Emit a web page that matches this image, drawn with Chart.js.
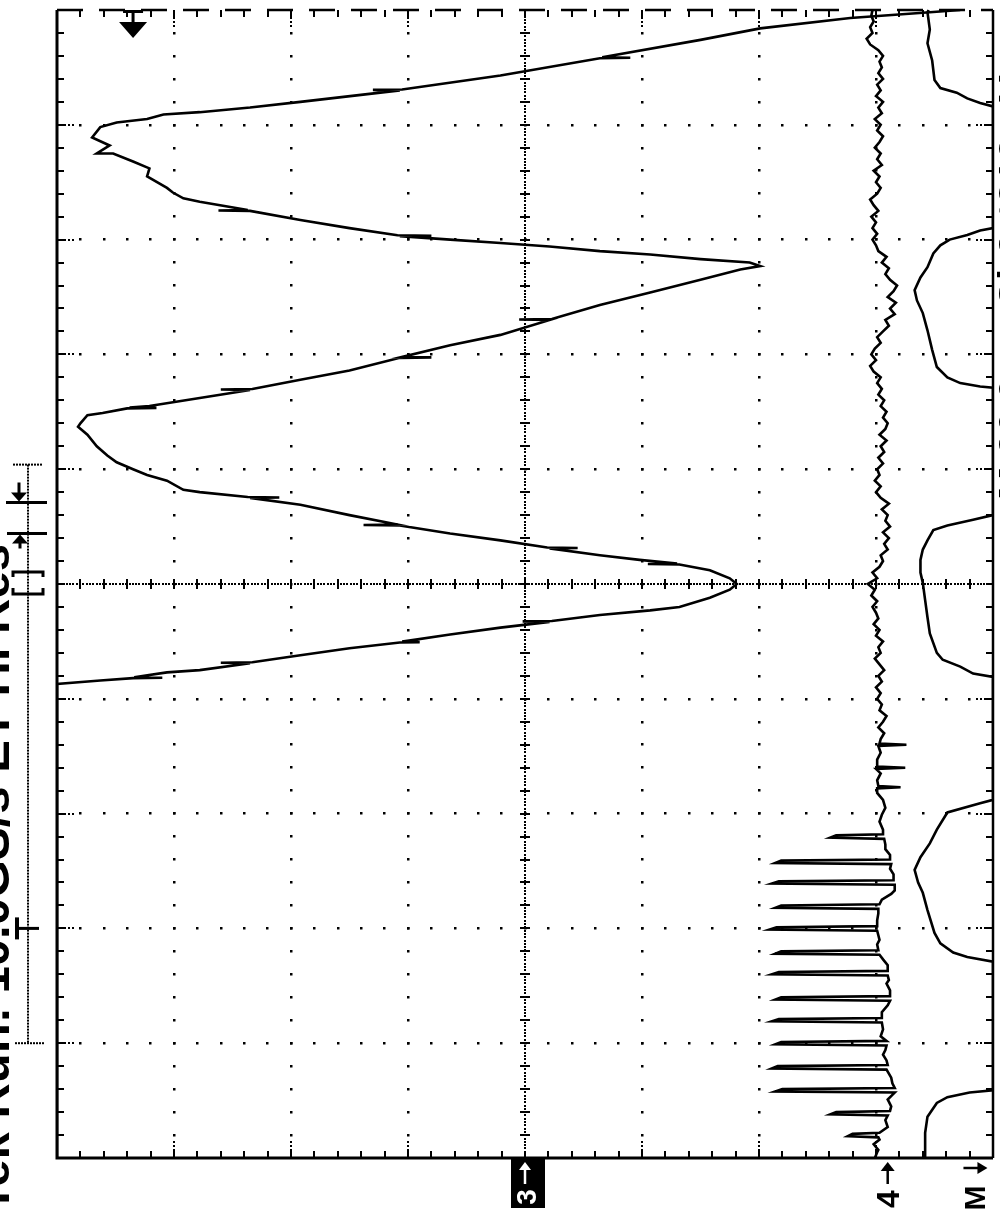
<!DOCTYPE html>
<html>
<head>
<meta charset="utf-8">
<script src="https://cdn.jsdelivr.net/npm/chart.js@4.4.0/dist/chart.umd.min.js"></script>
<style>
  html, body { margin: 0; padding: 0; background: #fff; }
  canvas { display: block; }
</style>
</head>
<body>
<canvas id="scope" width="1000" height="1213"></canvas>
<script>
// scope screen is turned on its side: time runs bottom -> top (10 div),
// volts run left -> right (8 div). all values are in graticule divisions.

// channel 3 - big triangle wave, clipped on the left edge at the start
const ch3Time = [0, 4.13,
  4.16, 4.18, 4.184, 4.188, 4.23, 4.25, 4.31, 4.314, 4.318,
  4.38, 4.44, 4.49, 4.494, 4.498, 4.56, 4.62, 4.67, 4.674, 4.678,
  4.73, 4.77, 4.80, 4.88, 4.95, 5.00,
  5.05, 5.12, 5.17, 5.174, 5.178, 5.21, 5.25, 5.31, 5.314, 5.318,
  5.38, 5.44, 5.51, 5.514, 5.518, 5.60, 5.69, 5.75, 5.754, 5.758,
  5.80, 5.82, 5.90, 5.95, 6.00, 6.06, 6.12, 6.20, 6.30, 6.37,
  6.40, 6.47, 6.49, 6.53, 6.534, 6.538, 6.55, 6.62, 6.69, 6.694, 6.698,
  6.78, 6.86, 6.97, 6.974, 6.978, 7.08, 7.17, 7.30, 7.304, 7.308,
  7.43, 7.54, 7.65, 7.74, 7.77,
  7.80, 7.83, 7.87, 7.90, 7.94, 7.97, 8.00, 8.03, 8.034, 8.038,
  8.10, 8.17, 8.25, 8.254, 8.258, 8.33,
  8.36, 8.41, 8.45, 8.55, 8.62, 8.68, 8.75, 8.75, 8.82, 8.89,
  8.98, 9.02, 9.05, 9.09, 9.11, 9.15, 9.20,
  9.30, 9.304, 9.308, 9.43, 9.58, 9.584, 9.588, 9.74, 9.84, 9.93, 9.98, 10.0];
const ch3Volt = [0, 0,
  0.37, 0.65, 0.90, 0.66, 0.94, 1.22, 1.65, 1.40, 1.67,
  2.08, 2.50, 2.93, 3.10, 2.95, 3.36, 3.79, 4.21, 3.98, 4.23,
  4.64, 5.07, 5.32, 5.58, 5.75, 5.81,
  5.75, 5.58, 5.32, 5.05, 5.30, 4.98, 4.64, 4.21, 4.45, 4.19,
  3.79, 3.36, 2.93, 2.62, 2.91, 2.50, 2.08, 1.65, 1.90, 1.63,
  1.22, 1.08, 0.94, 0.77, 0.65, 0.51, 0.43, 0.34, 0.26, 0.18,
  0.20, 0.26, 0.39, 0.60, 0.85, 0.62, 0.79, 1.22, 1.65, 1.40, 1.67,
  2.08, 2.50, 2.93, 3.20, 2.95, 3.36, 3.79, 4.21, 3.95, 4.23,
  4.64, 5.07, 5.50, 5.84, 6.01,
  5.92, 5.50, 5.07, 4.64, 4.21, 3.79, 3.36, 2.93, 3.20, 2.91,
  2.50, 2.08, 1.65, 1.38, 1.63, 1.22,
  1.08, 0.99, 0.94, 0.77, 0.79, 0.65, 0.48, 0.34, 0.45, 0.30,
  0.37, 0.51, 0.77, 0.91, 1.22, 1.65, 2.08,
  2.93, 2.70, 2.95, 3.79, 4.64, 4.90, 4.66, 5.50, 6.01, 6.78, 7.46, 7.72];

// channel 4 - noisy line with the burst of spikes early in the record
const ch4Time = [0.00, 0.05, 0.07, 0.12, 0.16,
  0.18, 0.19, 0.21, 0.22, 0.27, 0.33,
  0.37, 0.38, 0.40, 0.41, 0.45, 0.51, 0.55,
  0.57, 0.58, 0.60, 0.61, 0.65, 0.70,
  0.77, 0.78, 0.80, 0.81, 0.85, 0.90, 0.94,
  0.98, 0.99, 1.01, 1.02, 1.06, 1.12,
  1.18, 1.19, 1.21, 1.22, 1.27, 1.33,
  1.37, 1.38, 1.40, 1.41, 1.46, 1.52, 1.55,
  1.59, 1.60, 1.62, 1.63, 1.68, 1.73,
  1.77, 1.78, 1.80, 1.81, 1.86, 1.90, 1.94,
  1.98, 1.99, 2.01, 2.02, 2.07, 2.13,
  2.17, 2.18, 2.20, 2.21, 2.25, 2.30, 2.33,
  2.38, 2.39, 2.41, 2.42, 2.47, 2.52,
  2.56, 2.57, 2.59, 2.60, 2.64, 2.69, 2.73,
  2.78, 2.79, 2.81, 2.82, 2.86, 2.93, 2.99, 3.05, 3.12, 3.18,
  3.22, 3.23, 3.24, 3.29, 3.35,
  3.39, 3.40, 3.41, 3.47, 3.53,
  3.59, 3.60, 3.61,
  3.65, 3.70, 3.75, 3.80, 3.85, 3.90, 3.95, 4.00,
  4.05, 4.10, 4.15, 4.20, 4.25, 4.30, 4.35, 4.40,
  4.45, 4.50, 4.55, 4.60, 4.65, 4.70, 4.75, 4.80,
  4.85, 4.90, 4.95, 5.00, 5.05, 5.10, 5.15, 5.20,
  5.25, 5.30, 5.35, 5.40, 5.45, 5.50, 5.55, 5.60,
  5.65, 5.70, 5.75, 5.80, 5.85, 5.90, 5.95, 6.00,
  6.05, 6.10, 6.15, 6.20, 6.25, 6.30, 6.35, 6.40,
  6.45, 6.50, 6.55, 6.60, 6.65, 6.70, 6.75, 6.80,
  6.85, 6.90, 6.95, 7.00, 7.05, 7.10, 7.15, 7.20,
  7.25, 7.30, 7.35, 7.40, 7.45, 7.50, 7.55, 7.60,
  7.65, 7.70, 7.75, 7.80, 7.85, 7.90, 7.95, 8.00,
  8.05, 8.10, 8.15, 8.20, 8.25, 8.30, 8.35, 8.40,
  8.45, 8.50, 8.55, 8.60, 8.65, 8.70, 8.75, 8.80,
  8.85, 8.90, 8.95, 9.00, 9.05, 9.10, 9.15, 9.20,
  9.25, 9.30, 9.35, 9.40, 9.45, 9.50, 9.55, 9.60,
  9.65, 9.70, 9.75, 9.80, 9.85, 9.90, 9.95, 10.00];
const ch4Volt = [6.99, 7.01, 7.02, 6.98, 7.03,
  7.02, 6.76, 6.80, 7.03, 7.10, 7.08,
  7.10, 6.61, 6.66, 7.12, 7.13, 7.10, 7.14,
  7.16, 6.14, 6.20, 7.16, 7.14, 7.13,
  7.09, 6.11, 6.16, 7.10, 7.09, 7.06, 7.08,
  7.09, 6.14, 6.19, 7.09, 7.04, 7.06,
  7.05, 6.11, 6.17, 7.05, 7.05, 7.10,
  7.12, 6.14, 6.19, 7.12, 7.12, 7.09, 7.11,
  7.10, 6.11, 6.17, 7.10, 7.10, 7.06,
  7.03, 6.14, 6.19, 7.02, 7.01, 7.03, 7.02,
  7.01, 6.09, 6.15, 7.01, 7.01, 7.02,
  7.02, 6.14, 6.19, 7.03, 7.05, 7.13, 7.16,
  7.16, 6.11, 6.17, 7.15, 7.15, 7.12,
  7.13, 6.14, 6.19, 7.12, 7.12, 7.08, 7.08,
  7.07, 6.61, 6.66, 7.06, 7.06, 7.03, 7.05, 7.08, 7.06, 7.01,
  7.01, 7.21, 7.02, 7.01, 7.04,
  7.00, 7.25, 7.01, 7.01, 7.04,
  7.02, 7.26, 7.03,
  7.04, 7.07, 7.02, 7.06, 7.09, 7.03, 7.05, 7.01,
  7.04, 7.00, 7.05, 7.02, 7.07, 7.03, 6.99, 7.04,
  7.02, 7.06, 7.00, 7.03, 6.98, 7.02, 7.00, 6.97,
  7.01, 6.96, 6.99, 6.93, 7.01, 6.97, 7.03, 7.06,
  7.04, 7.10, 7.07, 7.11, 7.06, 7.12, 7.08, 7.10,
  7.05, 7.11, 7.04, 7.00, 7.04, 6.99, 7.03, 7.01,
  7.06, 7.02, 7.07, 7.04, 7.09, 7.03, 7.08, 7.10,
  7.06, 7.09, 7.04, 7.07, 7.02, 7.05, 7.01, 7.04,
  6.98, 6.95, 7.00, 6.96, 6.99, 7.04, 7.01, 7.06,
  7.11, 7.08, 7.16, 7.12, 7.17, 7.10, 7.15, 7.18,
  7.12, 7.08, 7.11, 7.05, 7.09, 7.02, 7.00, 6.97,
  7.01, 6.97, 7.00, 6.96, 7.02, 6.98, 6.95, 7.01,
  7.04, 7.00, 7.03, 6.98, 7.05, 7.01, 7.04, 6.99,
  7.03, 7.06, 7.01, 7.04, 6.99, 7.05, 7.02, 7.06,
  7.00, 7.04, 7.01, 7.06, 7.02, 7.05, 7.03, 7.06,
  7.02, 6.95, 6.92, 6.97, 6.95, 6.98, 6.96, 6.97];

// math trace - sits on the right edge with rounded dips
const mathTime = [0, 0.22, 0.36, 0.48, 0.53, 0.57, 0.59,
  1.71, 1.75, 1.79, 1.87, 1.96, 2.16, 2.31, 2.40, 2.51, 2.62,
  2.74, 2.86, 3.01, 3.09, 3.12,
  4.19, 4.22, 4.28, 4.34, 4.40, 4.57, 4.71, 4.86, 5.01, 5.10,
  5.21, 5.30, 5.38, 5.47, 5.51, 5.56, 5.60,
  6.71, 6.72, 6.75, 6.80, 6.89, 7.04, 7.21, 7.36, 7.47, 7.56,
  7.67, 7.76, 7.88, 7.95, 8.00, 8.04, 8.08, 8.10,
  9.16, 9.19, 9.23, 9.28, 9.32, 9.39, 9.56, 9.71, 9.83, 9.98, 10.0];
const mathVolt = [7.42, 7.42, 7.44, 7.52, 7.61, 7.80, 8.0,
  8.0, 7.78, 7.66, 7.55, 7.50, 7.44, 7.40, 7.36, 7.33, 7.38,
  7.46, 7.52, 7.61, 7.89, 8.0,
  8.0, 7.83, 7.72, 7.57, 7.52, 7.46, 7.44, 7.42, 7.40, 7.38,
  7.38, 7.40, 7.44, 7.49, 7.61, 7.83, 8.0,
  8.0, 7.89, 7.72, 7.61, 7.52, 7.48, 7.44, 7.40, 7.35, 7.33,
  7.38, 7.44, 7.49, 7.55, 7.63, 7.78, 7.89, 8.0,
  8.0, 7.89, 7.78, 7.69, 7.55, 7.50, 7.48, 7.44, 7.46, 7.44, 7.45];

// readout / marker positions (divisions)
const ch3Ground = 4;
const ch4Ground = 7.10;
const mathGround = 7.85;
const trigLevel = 0.65;
const trigTime = 2.0;
const recordStart = 1.0;
const recordEnd = 6.04;
const zoomMarks = [5.71, 5.44];
const titleText = "Tek Run: 10.0GS/s ET Hi Res";
const readoutText = "M 20.0ns  Ch3 \u2215 312mV";

function toPoints(ts, vs) {
  return ts.map((t, i) => ({ x: vs[i], y: t }));
}

function upText(ctx, str, x, y, font, align, baseline) {
  ctx.save();
  ctx.translate(x, y);
  ctx.rotate(-Math.PI / 2);
  ctx.font = font;
  ctx.textAlign = align || "center";
  ctx.textBaseline = baseline || "middle";
  ctx.fillText(str, 0, 0);
  ctx.restore();
}

const scopeGrid = {
  id: "scopeGrid",
  beforeDatasetsDraw(chart) {
    const { ctx, chartArea: a } = chart;
    const xs = chart.scales.x, ys = chart.scales.y;
    const dot = (px, py, s) => ctx.fillRect(Math.round(px - s / 2), Math.round(py - s / 2), s, s);
    ctx.save();
    ctx.fillStyle = "#000";

    // vertical major lines
    for (let i = 1; i < 8; i++) {
      const px = xs.getPixelForValue(i);
      if (i === 4) {
        for (let py = a.top; py <= a.bottom; py += 3.3) dot(px, py, 2);
        for (let j = 1; j < 50; j++) ctx.fillRect(Math.round(px) - 5, Math.round(ys.getPixelForValue(j / 5)) - 1, 10, 2);
      } else {
        for (let j = 1; j < 50; j++) dot(px, ys.getPixelForValue(j / 5), 2.5);
        for (let k = 1; k <= 4; k++) { dot(px, a.bottom - 4 * k, 2); dot(px, a.top + 4 * k, 2); }
      }
    }
    // horizontal major lines
    for (let k = 1; k < 10; k++) {
      const py = ys.getPixelForValue(k);
      if (k === 5) {
        for (let px = a.left; px <= a.right; px += 3.3) dot(px, py, 2);
        for (let j = 1; j < 40; j++) ctx.fillRect(Math.round(xs.getPixelForValue(j / 5)) - 1, Math.round(py) - 5, 2, 10);
      } else {
        for (let j = 1; j < 40; j++) dot(xs.getPixelForValue(j / 5), py, 2.5);
        for (let m = 1; m <= 4; m++) { dot(a.left + 4 * m, py, 2); dot(a.right - 4 * m, py, 2); }
      }
    }
    // ticks on the frame
    for (let j = 1; j < 50; j++) {
      const py = Math.round(ys.getPixelForValue(j / 5));
      ctx.fillRect(a.left, py - 1, 7, 2);
      ctx.fillRect(a.right - 7, py - 1, 7, 2);
    }
    for (let j = 1; j < 40; j++) {
      const px = Math.round(xs.getPixelForValue(j / 5));
      ctx.fillRect(px - 1, a.bottom - 7, 2, 7);
      ctx.fillRect(px - 1, a.top, 2, 7);
    }
    ctx.restore();
  },
  afterDatasetsDraw(chart) {
    const { ctx, chartArea: a } = chart;
    ctx.save();
    ctx.strokeStyle = "#000";
    ctx.lineWidth = 3;
    ctx.beginPath();
    ctx.moveTo(a.left, a.top);
    ctx.lineTo(a.left, a.bottom);
    ctx.lineTo(a.right, a.bottom);
    ctx.stroke();
    ctx.lineWidth = 2.5;
    ctx.beginPath();
    ctx.moveTo(a.right, a.bottom);
    ctx.lineTo(a.right, a.top);
    ctx.stroke();
    ctx.setLineDash([26, 16]);
    ctx.beginPath();
    ctx.moveTo(a.left, a.top);
    ctx.lineTo(a.right, a.top);
    ctx.stroke();
    ctx.restore();
  }
};

const scopeMarks = {
  id: "scopeMarks",
  afterDraw(chart) {
    const { ctx, chartArea: a } = chart;
    const xs = chart.scales.x, ys = chart.scales.y;
    ctx.save();
    ctx.fillStyle = "#000";
    ctx.strokeStyle = "#000";

    // trigger level arrow on the top edge
    const tx = xs.getPixelForValue(trigLevel);
    ctx.fillRect(tx - 10, a.top, 20, 3);
    ctx.fillRect(tx - 1.5, a.top, 3, 13);
    ctx.beginPath();
    ctx.moveTo(tx - 14, a.top + 12);
    ctx.lineTo(tx + 14, a.top + 12);
    ctx.lineTo(tx, a.top + 28);
    ctx.closePath();
    ctx.fill();

    // record / window bracket at the left
    const yTop = ys.getPixelForValue(recordEnd);
    const yBot = ys.getPixelForValue(recordStart);
    for (let px = 13; px <= 42; px += 3) ctx.fillRect(px, yTop - 1, 2, 2);
    for (let px = 15; px <= 43; px += 3) ctx.fillRect(px, yBot - 1, 2, 2);
    for (let py = yTop; py <= yBot; py += 3) ctx.fillRect(27, py, 2, 2);

    ctx.lineWidth = 3;
    const m1 = ys.getPixelForValue(zoomMarks[0]);
    const m2 = ys.getPixelForValue(zoomMarks[1]);
    ctx.beginPath();
    ctx.moveTo(6, m1); ctx.lineTo(47, m1);
    ctx.moveTo(19, m1 - 20); ctx.lineTo(19, m1 - 6);
    ctx.moveTo(7, m2); ctx.lineTo(47, m2);
    ctx.moveTo(20, m2 + 15); ctx.lineTo(20, m2 + 6);
    ctx.stroke();
    ctx.beginPath();
    ctx.moveTo(11, m1 - 10); ctx.lineTo(27, m1 - 10); ctx.lineTo(19, m1 - 1); ctx.closePath();
    ctx.moveTo(12, m2 + 10); ctx.lineTo(28, m2 + 10); ctx.lineTo(20, m2 + 1); ctx.closePath();
    ctx.fill();

    // [ ] screen window marker
    const yc = ys.getPixelForValue(5);
    ctx.beginPath();
    ctx.moveTo(13, yc - 7); ctx.lineTo(13, yc - 12); ctx.lineTo(43, yc - 12); ctx.lineTo(43, yc - 7);
    ctx.moveTo(13, yc + 4); ctx.lineTo(13, yc + 10); ctx.lineTo(43, yc + 10); ctx.lineTo(43, yc + 4);
    ctx.stroke();

    // T at the trigger point
    const yt = ys.getPixelForValue(trigTime);
    ctx.fillRect(15, yt - 11, 4, 22);
    ctx.fillRect(15, yt - 1.5, 24, 3);

    // title, cut by the left edge
    upText(ctx, titleText, 9, 1213, 'bold 49px "Liberation Sans"', "left", "alphabetic");
    // readout, cut by the right edge
    upText(ctx, readoutText, 1027, 500, 'bold 40px "Liberation Sans"', "left", "alphabetic");

    // channel ground markers under the frame
    const x3 = xs.getPixelForValue(ch3Ground);
    ctx.fillRect(x3 - 14, a.bottom, 34, 50);
    ctx.fillStyle = "#fff";
    ctx.strokeStyle = "#fff";
    ctx.lineWidth = 2.5;
    ctx.beginPath(); ctx.moveTo(x3, a.bottom + 26); ctx.lineTo(x3, a.bottom + 10); ctx.stroke();
    ctx.beginPath(); ctx.moveTo(x3 - 6, a.bottom + 12); ctx.lineTo(x3 + 6, a.bottom + 12); ctx.lineTo(x3, a.bottom + 4); ctx.closePath(); ctx.fill();
    upText(ctx, "3", x3 + 3, a.bottom + 39, 'bold 28px "Liberation Sans"');

    ctx.fillStyle = "#000";
    ctx.strokeStyle = "#000";
    const x4 = xs.getPixelForValue(ch4Ground);
    ctx.beginPath(); ctx.moveTo(x4, a.bottom + 26); ctx.lineTo(x4, a.bottom + 11); ctx.stroke();
    ctx.beginPath(); ctx.moveTo(x4 - 7, a.bottom + 13); ctx.lineTo(x4 + 7, a.bottom + 13); ctx.lineTo(x4, a.bottom + 4); ctx.closePath(); ctx.fill();
    upText(ctx, "4", x4 + 2, a.bottom + 41, 'bold 32px "Liberation Sans"');

    const xm = xs.getPixelForValue(mathGround);
    ctx.beginPath(); ctx.moveTo(xm - 12, a.bottom + 10); ctx.lineTo(xm + 4, a.bottom + 10); ctx.stroke();
    ctx.beginPath(); ctx.moveTo(xm + 2, a.bottom + 4); ctx.lineTo(xm + 2, a.bottom + 16); ctx.lineTo(xm + 12, a.bottom + 10); ctx.closePath(); ctx.fill();
    upText(ctx, "M", xm + 1, a.bottom + 40, 'bold 30px "Liberation Sans"');

    ctx.restore();
  }
};

const traceStyle = {
  showLine: true,
  borderColor: "#000",
  borderWidth: 2.6,
  pointRadius: 0,
  tension: 0,
  clip: 1
};

new Chart(document.getElementById("scope").getContext("2d"), {
  type: "scatter",
  data: {
    datasets: [
      { label: "Ch3", data: toPoints(ch3Time, ch3Volt), ...traceStyle },
      { label: "Ch4", data: toPoints(ch4Time, ch4Volt), ...traceStyle },
      { label: "Math", data: toPoints(mathTime, mathVolt), ...traceStyle }
    ]
  },
  options: {
    responsive: false,
    animation: false,
    layout: { padding: { left: 57, right: 7, top: 10, bottom: 55 } },
    plugins: {
      legend: { display: false },
      tooltip: { enabled: false }
    },
    scales: {
      x: { type: "linear", min: 0, max: 8, display: false },
      y: { type: "linear", min: 0, max: 10, display: false }
    }
  },
  plugins: [scopeGrid, scopeMarks]
});
</script>
</body>
</html>
